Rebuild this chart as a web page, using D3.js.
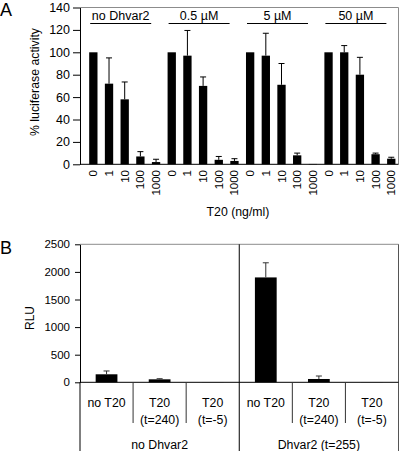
<!DOCTYPE html>
<html><head><meta charset="utf-8">
<script src="https://cdn.jsdelivr.net/npm/d3@7"></script>
<style>
body{margin:0;background:#fff;}
svg text{font-family:"Liberation Sans",Arial,sans-serif;fill:#000;}
</style></head>
<body><svg id="c" width="400" height="451"></svg>
<script>
// ---------- Panel A data ----------
const groupsA = ["no Dhvar2", "0.5 \u00b5M", "5 \u00b5M", "50 \u00b5M"];
const dosesA = ["0", "1", "10", "100", "1000"];
const valuesA = [
  [100, 72, 58, 7, 2],
  [100, 97, 70, 4, 3],
  [100, 97, 71, 8, 0.3],
  [100, 100, 80, 9, 5]
];
const errorsA = [
  [0, 23, 15.5, 4.3, 2.5],
  [0, 22.5, 8, 3, 2],
  [0, 20, 19, 2, 0],
  [0, 6, 15.5, 1, 1.3]
];
const ticksA = [0, 20, 40, 60, 80, 100, 120, 140];

// ---------- Panel B data ----------
const groupsB = ["no Dhvar2", "Dhvar2 (t=255)"];
const catsB = [["no T20"], ["T20", "(t=240)"], ["T20", "(t=-5)"]];
const valuesB = [
  [145, 54, 2],
  [1900, 60, 2]
];
const errorsB = [
  [60, 11, 0],
  [265, 54, 0]
];
const ticksB = [0, 500, 1000, 1500, 2000, 2500];

const svg = d3.select("#c");
const L = 80, R = 398.5;
const gray = "#8c8c8c";

// ================= Panel A =================
const flatA = [];
valuesA.forEach((g, gi) => g.forEach((v, di) => flatA.push({gi, di, v, e: errorsA[gi][di], key: gi + "-" + di})));
const xA = d3.scaleBand().domain(flatA.map(d => d.key)).range([85.5, 399.1]).padding(0);
const yA = d3.scaleLinear().domain([0, 140]).range([164.3, 7.5]);
const bwA = xA.bandwidth() * 0.53;

const gA = svg.append("g");
gA.append("line").attr("x1", L).attr("x2", R).attr("y1", yA(140)).attr("y2", yA(140)).attr("stroke", gray);
gA.append("line").attr("x1", R).attr("x2", R).attr("y1", yA(140)).attr("y2", yA(0)).attr("stroke", gray);

gA.selectAll("rect.bar").data(flatA).join("rect")
  .attr("x", d => xA(d.key) + (xA.bandwidth() - bwA) / 2)
  .attr("y", d => yA(d.v))
  .attr("width", bwA)
  .attr("height", d => yA(0) - yA(d.v))
  .attr("fill", "#000");
const errA = flatA.filter(d => d.e > 0);
gA.selectAll("line.ev").data(errA).join("line")
  .attr("x1", d => xA(d.key) + xA.bandwidth() / 2).attr("x2", d => xA(d.key) + xA.bandwidth() / 2)
  .attr("y1", d => yA(d.v)).attr("y2", d => yA(d.v + d.e)).attr("stroke", "#000");
gA.selectAll("line.ec").data(errA).join("line")
  .attr("x1", d => xA(d.key) + xA.bandwidth() / 2 - 3).attr("x2", d => xA(d.key) + xA.bandwidth() / 2 + 3)
  .attr("y1", d => yA(d.v + d.e)).attr("y2", d => yA(d.v + d.e)).attr("stroke", "#000");

gA.append("line").attr("x1", L).attr("x2", R).attr("y1", yA(0)).attr("y2", yA(0)).attr("stroke", "#000");
const axA = gA.append("g").attr("transform", `translate(${L},0)`)
  .call(d3.axisLeft(yA).tickValues(ticksA).tickSize(7).tickSizeOuter(0).tickPadding(3));
axA.selectAll("text").style("font-size", "12.5px").attr("fill", "#000");
axA.selectAll("line,path").attr("stroke", "#000");

gA.selectAll("text.xl").data(flatA).join("text")
  .attr("transform", d => `translate(${xA(d.key) + xA.bandwidth() / 2},170) rotate(-90)`)
  .attr("text-anchor", "end").attr("dy", "0.35em")
  .style("font-size", "11.5px")
  .text(d => dosesA[d.di]);

groupsA.forEach((g, gi) => {
  const x0 = xA(gi + "-0"), x1 = xA(gi + "-4") + xA.bandwidth();
  const cx = (x0 + x1) / 2 - 4;
  gA.append("text").attr("x", cx).attr("y", 20).attr("text-anchor", "middle").style("font-size", "12.5px").text(g);
  gA.append("line").attr("x1", cx - 30.5).attr("x2", cx + 30.5).attr("y1", 23.5).attr("y2", 23.5).attr("stroke", "#000");
});

gA.append("text").attr("transform", "translate(39,82) rotate(-90)").attr("text-anchor", "middle")
  .style("font-size", "12.3px").text("% luciferase activity");
gA.append("text").attr("x", 238).attr("y", 216).attr("text-anchor", "middle").style("font-size", "12.3px").text("T20 (ng/ml)");
svg.append("text").attr("x", 0).attr("y", 16).style("font-size", "18px").text("A");

// ================= Panel B =================
const flatB = [];
valuesB.forEach((g, gi) => g.forEach((v, ci) => flatB.push({gi, ci, v, e: errorsB[gi][ci], key: gi + "-" + ci})));
const xB = d3.scaleBand().domain(flatB.map(d => d.key)).range([L, R]).padding(0);
const yB = d3.scaleLinear().domain([0, 2500]).range([382.3, 244.3]);
const bwB = xB.bandwidth() * 0.41;
const gB = svg.append("g");
const bottom = 451;

gB.append("line").attr("x1", L).attr("x2", R).attr("y1", yB(2500)).attr("y2", yB(2500)).attr("stroke", gray);
gB.append("line").attr("x1", R).attr("x2", R).attr("y1", yB(2500)).attr("y2", bottom).attr("stroke", "#555");

gB.selectAll("rect").data(flatB).join("rect")
  .attr("x", d => xB(d.key) + (xB.bandwidth() - bwB) / 2)
  .attr("y", d => yB(d.v)).attr("width", bwB).attr("height", d => yB(0) - yB(d.v)).attr("fill", "#000");
const errB = flatB.filter(d => d.e > 0);
gB.selectAll("line.ev").data(errB).join("line")
  .attr("x1", d => xB(d.key) + xB.bandwidth() / 2).attr("x2", d => xB(d.key) + xB.bandwidth() / 2)
  .attr("y1", d => yB(d.v)).attr("y2", d => yB(d.v + d.e)).attr("stroke", "#333");
gB.selectAll("line.ec").data(errB).join("line")
  .attr("x1", d => xB(d.key) + xB.bandwidth() / 2 - 3).attr("x2", d => xB(d.key) + xB.bandwidth() / 2 + 3)
  .attr("y1", d => yB(d.v + d.e)).attr("y2", d => yB(d.v + d.e)).attr("stroke", "#333");

gB.append("line").attr("x1", L).attr("x2", R).attr("y1", yB(0)).attr("y2", yB(0)).attr("stroke", "#000");
flatB.filter(d => d.ci > 0).forEach(d => {
  gB.append("line").attr("x1", xB(d.key)).attr("x2", xB(d.key)).attr("y1", yB(0)).attr("y2", 423).attr("stroke", "#333");
});
gB.append("line").attr("x1", xB("1-0")).attr("x2", xB("1-0")).attr("y1", yB(2500)).attr("y2", bottom).attr("stroke", "#000");
const axB = gB.append("g").attr("transform", `translate(${L},0)`)
  .call(d3.axisLeft(yB).tickValues(ticksB).tickFormat(d3.format("d")).tickSize(5).tickSizeOuter(0).tickPadding(5));
axB.selectAll("text").style("font-size", "11.5px").attr("fill", "#000");
axB.selectAll("line,path").attr("stroke", "#000");
gB.append("line").attr("x1", L).attr("x2", L).attr("y1", yB(0)).attr("y2", bottom).attr("stroke", "#000");

flatB.forEach(d => {
  const lines = catsB[d.ci];
  const cx = xB(d.key) + xB.bandwidth() / 2;
  lines.forEach((t, li) => {
    gB.append("text").attr("x", cx).attr("y", 407 + li * 17).attr("text-anchor", "middle").style("font-size", "12.3px").text(t);
  });
});
groupsB.forEach((g, gi) => {
  const x0 = xB(gi + "-0"), x1 = xB(gi + "-2") + xB.bandwidth();
  gB.append("text").attr("x", (x0 + x1) / 2).attr("y", 449).attr("text-anchor", "middle").style("font-size", "12.3px").text(g);
});
gB.append("text").attr("transform", "translate(34,318) rotate(-90)").attr("text-anchor", "middle").style("font-size", "12px").text("RLU");
svg.append("text").attr("x", 0).attr("y", 254).style("font-size", "18px").text("B");
</script></body></html>
